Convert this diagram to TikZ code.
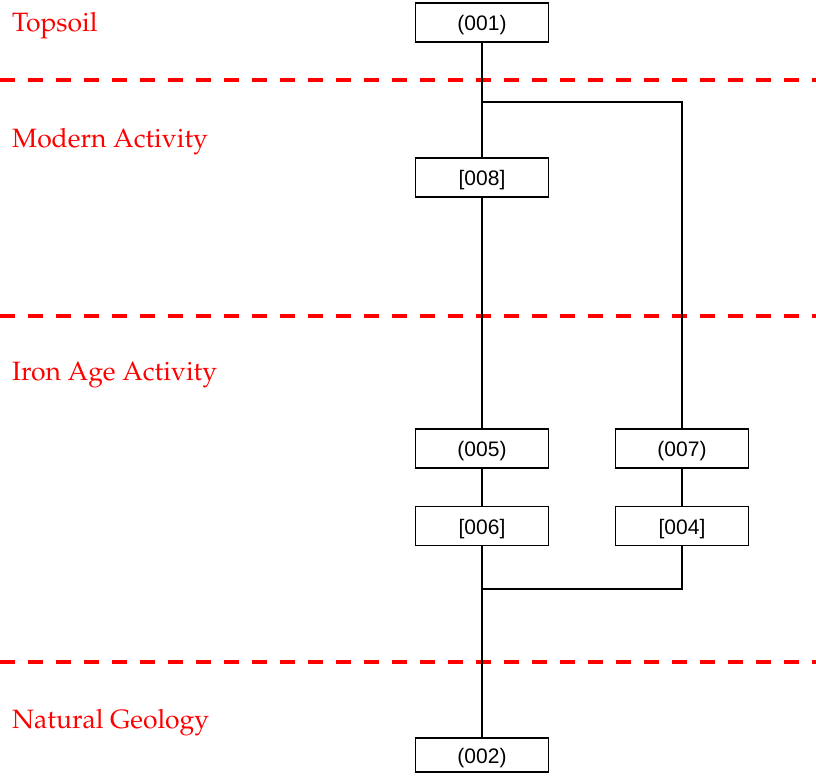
\documentclass[tikz,border=0pt]{standalone}
\usepackage[T1,TU]{fontenc}
\usepackage{fontspec}
\setsansfont{Liberation Sans}
\usepackage{xcolor}
\usepackage{tikz}

\newcommand{\phasefont}{\fontencoding{T1}\fontfamily{ppl}\fontsize{26.5}{30}\selectfont}

\begin{document}
\begin{tikzpicture}[x=1pt, y=-1pt,
    ctx/.style={draw, line width=1.8pt, minimum width=133pt, minimum height=39pt,
        inner sep=0pt, text height=16.5pt, text depth=0pt,
        font=\sffamily\fontsize{21}{24}\selectfont},
    phase/.style={anchor=base west, text=red, font=\phasefont, inner sep=0pt},
    divide/.style={red, line width=3.6pt, dash pattern=on 15pt off 13pt},
    link/.style={line width=1.8pt}]
    \useasboundingbox (0,0) rectangle (816,779);

    % phase boundaries
    \draw[divide] (0,80) -- (816,80);
    \draw[divide] (0,316) -- (816,316);
    \draw[divide] (0,662) -- (816,662);

    \node[phase] (topsoil) at (12,31) {Topsoil};
    \node[phase] (modern) at (12,147) {Modern Activity};
    \node[phase] (ironage) at (12,380) {Iron Age Activity};
    \node[phase] (geology) at (12,728) {Natural Geology};

    % contexts
    \node[ctx] (c001) at (482,22.5) {(001)};
    \node[ctx] (c008) at (482,177.5) {[008]};
    \node[ctx] (c005) at (482,448.5) {(005)};
    \node[ctx] (c006) at (482,526) {[006]};
    \node[ctx] (c007) at (682,448.5) {(007)};
    \node[ctx] (c004) at (682,526) {[004]};
    \node[ctx, minimum height=34pt] (c002) at (482,755) {(002)};

    \coordinate (split) at (482,102);
    \coordinate (join) at (482,589);

    \draw[link] (c001) -- (c008);
    \draw[link] (split) -| (c007);
    \draw[link] (c008) -- (c005);
    \draw[link] (c005) -- (c006);
    \draw[link] (c007) -- (c004);
    \draw[link] (c006) -- (c002);
    \draw[link] (c004) |- (join);
\end{tikzpicture}
\end{document}
